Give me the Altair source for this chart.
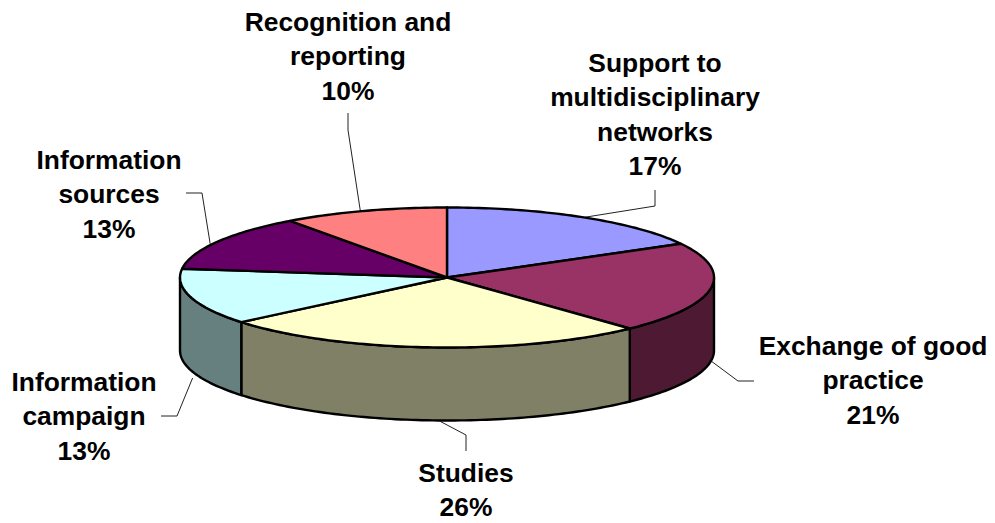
import math
import altair as alt
import pandas as pd

# Funding shares, clockwise from twelve o'clock
categories = ["Support to multidisciplinary networks", "Exchange of good practice", "Studies",
              "Information campaign", "Information sources", "Recognition and reporting"]
shares = [17, 21, 26, 13, 13, 10]
label_lines = [["Support to", "multidisciplinary", "networks"], ["Exchange of good", "practice"], ["Studies"],
               ["Information", "campaign"], ["Information", "sources"], ["Recognition and", "reporting"]]
top_colours = ["#9999FF", "#993366", "#FFFFCC", "#CCFFFF", "#660066", "#FF8080"]
side_colours = ["#4D1933", "#4D1933", "#808066", "#668080", "#330033", "#804040"]

# Tilted disc geometry, in canvas pixels
WIDTH, HEIGHT = 995, 523
CX, CY, RX, RY, DEPTH = 447, 277.5, 267, 70, 73
FONT = "Liberation Sans"
FONT_SIZE = 26.4
LINE_STEP = 34.4

# Label centre and first-line height, then the leader's elbow points and a nudge of its rim end
label_layout = [
    dict(x=655, y=64, elbow=[(655, 206), (655, 190)], nudge=(2, 0)),
    dict(x=873, y=347, elbow=[(738, 381), (754, 381)], nudge=(1, 0)),
    dict(x=466, y=474, elbow=[(466, 435), (466, 451)], nudge=(10, 1)),
    dict(x=84, y=383, elbow=[(177, 416), (161, 416)], nudge=(2, 8)),
    dict(x=109, y=161, elbow=[(202, 193), (186, 193)], nudge=(-7, 2)),
    dict(x=348, y=23, elbow=[(348, 130), (348, 113)], nudge=(-4, 1)),
]


def rim(t, drop=0):
    return CX + RX * math.sin(t), CY - RY * math.cos(t) + drop


def arc(t0, t1, drop=0, step=0.02):
    n = max(2, int(abs(t1 - t0) / step))
    return [rim(t0 + (t1 - t0) * i / n, drop) for i in range(n + 1)]


top_rows, side_rows, leader_rows, text_rows = [], [], [], []
total = sum(shares)
running = 0
for i, share in enumerate(shares):
    t0 = 2 * math.pi * running / total
    running += share
    t1 = 2 * math.pi * running / total
    mid = (t0 + t1) / 2

    # Upper face of the slice, closed through the centre
    outline = [(CX, CY)] + arc(t0, t1) + [(CX, CY)]
    top_rows += [dict(slice=categories[i], colour=top_colours[i], seq=k, x=x, y=y)
                 for k, (x, y) in enumerate(outline)]

    # Outer wall, only where the rim faces the viewer
    w0, w1 = max(t0, math.pi / 2), min(t1, 3 * math.pi / 2)
    if w1 > w0:
        wall = arc(w0, w1) + arc(w1, w0, DEPTH)
        wall.append(wall[0])
        side_rows += [dict(slice=categories[i], colour=side_colours[i], seq=k, x=x, y=y)
                      for k, (x, y) in enumerate(wall)]

    # Leader from the rim to the label
    place = label_layout[i]
    facing = math.pi / 2 < mid < 3 * math.pi / 2
    sx, sy = rim(mid, DEPTH if facing else 0)
    points = [(sx + place["nudge"][0], sy + place["nudge"][1])] + place["elbow"]
    leader_rows += [dict(slice=categories[i], seq=k, x=x, y=y) for k, (x, y) in enumerate(points)]

    # Label lines followed by the percentage
    for k, line in enumerate(label_lines[i] + [f"{share}%"]):
        text_rows.append(dict(x=place["x"], y=place["y"] + k * LINE_STEP, text=line))

x_enc = alt.X("x:Q", scale=alt.Scale(domain=[0, WIDTH], nice=False, zero=False), axis=None)
y_enc = alt.Y("y:Q", scale=alt.Scale(domain=[HEIGHT, 0], nice=False, zero=False), axis=None)


def faces(rows):
    return alt.Chart(pd.DataFrame(rows)).mark_line(
        stroke="#000000", strokeWidth=2.4, strokeJoin="round", interpolate="linear"
    ).encode(
        x=x_enc, y=y_enc,
        fill=alt.Fill("colour:N", scale=None),
        detail="slice:N",
        order="seq:Q",
    )


leaders = alt.Chart(pd.DataFrame(leader_rows)).mark_line(stroke="#222222", strokeWidth=1).encode(
    x=x_enc, y=y_enc, detail="slice:N", order="seq:Q"
)
labels = alt.Chart(pd.DataFrame(text_rows)).mark_text(
    font=FONT, fontSize=FONT_SIZE, fontWeight="bold", color="#000000", align="center", baseline="middle"
).encode(x=x_enc, y=y_enc, text="text:N")

chart = alt.layer(leaders, faces(side_rows), faces(top_rows), labels).properties(
    width=WIDTH, height=HEIGHT, padding=0, background="#FFFFFF",
    autosize=alt.AutoSizeParams(type="none"),
).configure_view(stroke=None)

chart.save("out.html", embed_options={"renderer": "svg", "actions": False})
